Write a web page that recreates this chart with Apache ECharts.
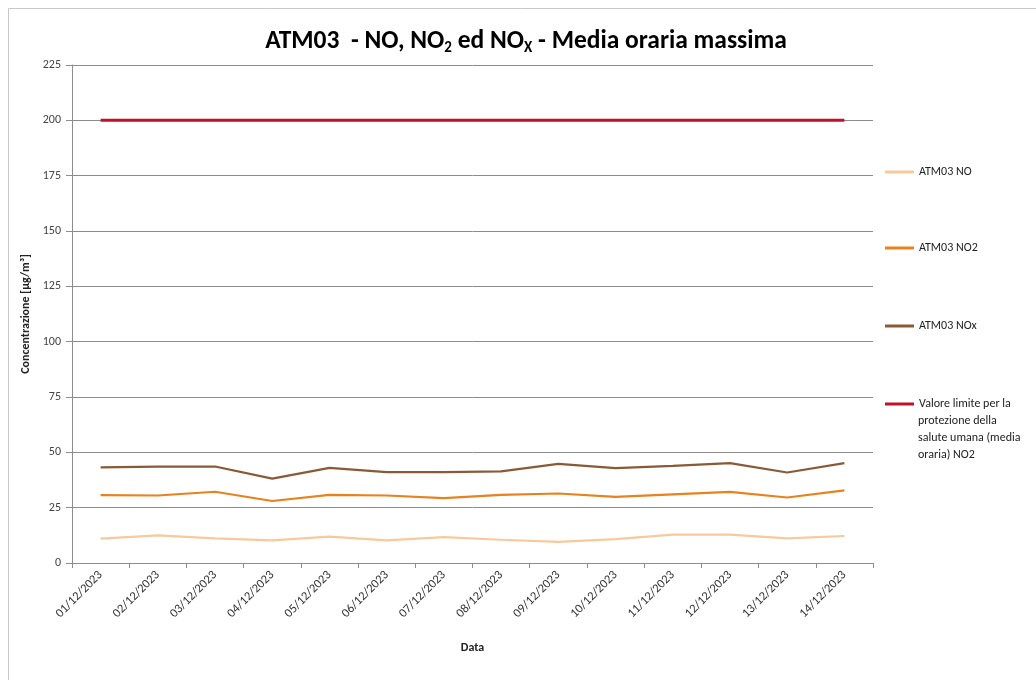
<!DOCTYPE html>
<html><head><meta charset="utf-8">
<script src="https://cdn.jsdelivr.net/npm/echarts@6/dist/echarts.min.js"></script>
<style>html,body{margin:0;padding:0;background:#fff}#c{width:1036px;height:680px}</style>
</head><body><div id="c"></div>
<script>
const categories = ['01/12/2023','02/12/2023','03/12/2023','04/12/2023','05/12/2023','06/12/2023','07/12/2023','08/12/2023','09/12/2023','10/12/2023','11/12/2023','12/12/2023','13/12/2023','14/12/2023'];
const no = [11.0, 12.5, 11.1, 10.2, 11.9, 10.2, 11.7, 10.5, 9.5, 10.8, 12.8, 12.8, 11.1, 12.2];
const no2 = [30.7, 30.5, 32.2, 28.0, 30.8, 30.5, 29.3, 30.8, 31.4, 29.9, 31.0, 32.1, 29.6, 32.8];
const nox = [43.2, 43.5, 43.6, 38.1, 43.0, 41.1, 41.1, 41.4, 44.8, 42.9, 43.9, 45.1, 40.9, 45.1];
const limit = [200, 200, 200, 200, 200, 200, 200, 200, 200, 200, 200, 200, 200, 200];
const seriesNames = ['ATM03 NO', 'ATM03 NO2', 'ATM03 NOx', 'Valore limite per la protezione della salute umana (media oraria) NO2'];
const limitLines = ['Valore limite per la', 'protezione della', 'salute umana (media', 'oraria) NO2'];

const font = 'Carlito, Lato, "Open Sans", sans-serif';
const chart = echarts.init(document.getElementById('c'));
const colors = ['#F8C99C', '#E8821E', '#8A5A36', '#C0102A'];
const data = [no, no2, nox, limit];
const legendTops = [161, 237, 315, 393];
chart.setOption({
  animation: false,
  backgroundColor: '#fff',
  graphic: [
    {type:'rect', shape:{x:8.5,y:8.5,width:1040,height:700}, style:{fill:'none', stroke:'#c8c8c8', lineWidth:1}},
    {type:'text', left: 918, top: 412, style:{text: limitLines.slice(1).join('\n'), font: '12px ' + font, fill: '#222', lineHeight: 17}}
  ],
  title: {
    text: 'ATM03  - NO, NO{s|2} ed NO{s|X} - Media oraria massima',
    left: 521, top: 22, textAlign: 'center',
    textStyle: {fontFamily: font, fontSize: 25.5, fontWeight: 'bold', color: '#000',
      rich: {s: {fontSize: 15, fontWeight: 'bold', fontFamily: font, padding: [14,0,0,0]}}}
  },
  grid: {left: 72, right: 163, top: 65, bottom: 117},
  legend: seriesNames.map((n, i) => ({
    left: 880, top: legendTops[i], icon: 'rect', itemWidth: 29, itemHeight: 3, itemGap: 4,
    textStyle: {fontFamily: font, fontSize: 12, color: '#222'},
    formatter: i === 3 ? limitLines[0] : '{name}',
    selectedMode: false,
    data: [n]
  })),
  xAxis: {
    type: 'category', data: categories, boundaryGap: true,
    name: 'Data', nameLocation: 'middle', nameGap: 79,
    nameTextStyle: {fontFamily: font, fontSize: 12, fontWeight: 'bold', color: '#222'},
    axisLine: {lineStyle: {color: '#8c8c8c'}},
    axisTick: {show: true, length: 5, lineStyle: {color: '#8c8c8c'}},
    axisLabel: {rotate: 45, fontFamily: font, fontSize: 12.5, color: '#333', interval: 0, margin: 10}
  },
  yAxis: {
    type: 'value', min: 0, max: 225, interval: 25,
    name: 'Concentrazione [µg/m³]', nameLocation: 'middle', nameGap: 40, nameRotate: 90,
    nameTextStyle: {fontFamily: font, fontSize: 12, fontWeight: 'bold', color: '#222'},
    axisLine: {show: true, lineStyle: {color: '#8c8c8c'}},
    axisTick: {show: true, length: 6, lineStyle: {color: '#8c8c8c'}},
    axisLabel: {fontFamily: font, fontSize: 12, color: '#444', margin: 11},
    splitLine: {lineStyle: {color: '#8c8c8c', width: 1}}
  },
  series: seriesNames.map((n, i) => ({
    name: n, type: 'line', data: data[i], symbol: 'none',
    lineStyle: {color: colors[i], width: i === 3 ? 3 : 2.2},
    itemStyle: {color: colors[i]}
  }))
});
</script></body></html>
